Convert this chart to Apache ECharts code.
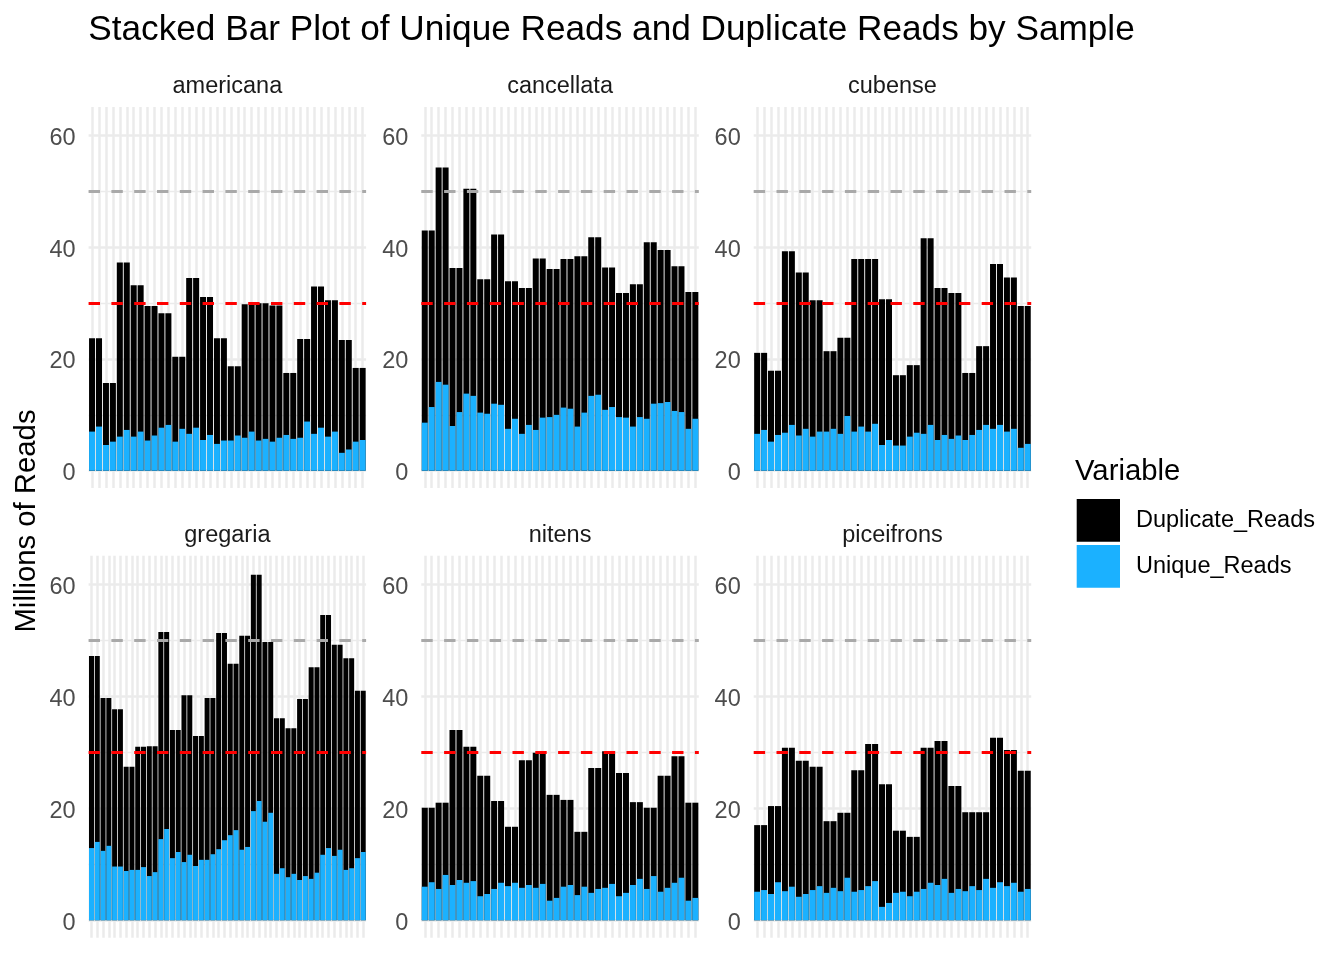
<!DOCTYPE html>
<html>
<head>
<meta charset="utf-8">
<title>Stacked Bar Plot of Unique Reads and Duplicate Reads by Sample</title>
<script src="https://cdn.jsdelivr.net/npm/echarts@6/dist/echarts.min.js"></script>
<style>
  html, body {margin:0; padding:0; background:#fff;}
  #main {width:1344px; height:960px;}
</style>
</head>
<body>
<div id="main"></div>
<script>
// millions of reads per sample (total bar height and the blue part)
var americanaTotal = [23.7,23.7, 15.7,15.7, 37.3,37.3, 33.2,33.2, 29.5,29.5, 28.2,28.2, 20.4,20.4, 34.5,34.5, 31.1,31.1, 23.7,23.7,
                      18.7,18.7, 29.8,29.8, 30.0,30.0, 29.6,29.6, 17.5,17.5, 23.6,23.6, 33.0,33.0, 30.5,30.5, 23.4,23.4, 18.4,18.4];
var americanaUnique = [7.0, 7.9, 4.6, 5.2, 6.1, 7.3, 6.1, 7.0, 5.4, 6.3, 7.7, 8.2, 5.2, 7.5, 6.6, 7.7, 5.5, 6.4, 4.8, 5.4,
                       5.4, 6.3, 5.9, 7.0, 5.4, 5.7, 5.2, 5.9, 6.4, 5.7, 5.9, 8.8, 6.6, 7.7, 6.1, 7.0, 3.2, 3.8, 5.2, 5.5];

var cancellataTotal = [43.0,43.0, 54.3,54.3, 36.3,36.3, 50.5,50.5, 34.3,34.3, 42.3,42.3, 33.9,33.9, 32.7,32.7, 38.0,38.0, 36.1,36.1,
                       37.9,37.9, 38.4,38.4, 41.8,41.8, 36.4,36.4, 31.8,31.8, 33.4,33.4, 40.9,40.9, 39.5,39.5, 36.6,36.6, 32.0,32.0];
var cancellataUnique = [8.6, 11.4, 15.9, 15.4, 8.0, 10.5, 13.8, 13.4, 10.4, 10.2, 12.0, 11.8, 7.5, 9.3, 6.6, 8.2, 7.3, 9.5, 9.6, 10.0,
                        11.3, 11.1, 7.9, 10.4, 13.4, 13.6, 10.9, 11.4, 9.6, 9.5, 7.9, 9.6, 9.3, 12.0, 12.1, 12.3, 10.7, 10.5, 7.5, 9.3];

var cubenseTotal = [21.1,21.1, 17.9,17.9, 39.3,39.3, 35.5,35.5, 30.5,30.5, 21.4,21.4, 23.8,23.8, 37.9,37.9, 37.9,37.9, 30.7,30.7,
                    17.1,17.1, 18.9,18.9, 41.6,41.6, 32.7,32.7, 31.8,31.8, 17.5,17.5, 22.3,22.3, 37.0,37.0, 34.6,34.6, 29.5,29.5];
var cubenseUnique = [6.6, 7.3, 5.2, 6.4, 6.8, 8.2, 6.3, 7.5, 6.1, 7.0, 7.0, 7.5, 6.6, 9.8, 7.0, 7.9, 7.0, 8.4, 4.6, 5.5,
                     4.5, 4.5, 6.1, 6.8, 6.6, 8.2, 5.5, 6.4, 5.7, 6.3, 5.5, 6.4, 7.3, 8.2, 7.5, 8.2, 7.0, 7.5, 4.1, 4.8];

var gregariaTotal = [47.2,47.2, 39.7,39.7, 37.7,37.7, 27.4,27.4, 31.0,31.0, 31.1,31.1, 51.5,51.5, 34.0,34.0, 40.2,40.2, 32.9,32.9,
                     39.7,39.7, 51.3,51.3, 45.8,45.8, 50.8,50.8, 61.7,61.7, 49.7,49.7, 36.1,36.1, 34.3,34.3, 39.5,39.5, 45.2,45.2,
                     54.5,54.5, 49.2,49.2, 46.8,46.8, 41.0,41.0];
var gregariaUnique = [12.9, 14.0, 12.4, 13.3, 9.6, 9.6, 8.8, 9.0, 9.0, 9.5, 7.9, 8.6, 14.5, 16.3, 11.1, 12.2, 10.4, 11.7, 9.7, 10.8,
                      10.8, 11.8, 12.7, 14.3, 15.2, 16.1, 12.6, 13.1, 19.5, 21.3, 17.6, 19.2, 8.3, 9.3, 7.7, 8.3, 7.2, 7.9, 7.4, 8.5,
                      11.7, 12.9, 11.5, 12.6, 9.0, 9.3, 11.1, 12.2];

var nitensTotal = [20.1,20.1, 21.0,21.0, 34.0,34.0, 31.0,31.0, 25.8,25.8, 21.3,21.3, 16.7,16.7, 28.6,28.6, 29.9,29.9, 22.4,22.4,
                   21.5,21.5, 15.8,15.8, 27.2,27.2, 30.2,30.2, 26.3,26.3, 21.1,21.1, 20.1,20.1, 25.8,25.8, 29.3,29.3, 21.0,21.0];
var nitensUnique = [6.0, 6.8, 5.6, 8.1, 6.3, 7.2, 6.7, 7.0, 4.3, 4.7, 5.6, 6.7, 6.1, 6.7, 5.8, 6.3, 5.8, 6.5, 3.5, 4.0,
                    6.0, 6.3, 4.5, 6.0, 4.9, 5.6, 5.8, 6.5, 4.3, 4.9, 6.3, 7.4, 5.6, 7.9, 5.1, 5.8, 6.7, 7.6, 3.5, 4.0];

var piceifronsTotal = [17.0,17.0, 20.4,20.4, 30.8,30.8, 28.5,28.5, 27.4,27.4, 17.7,17.7, 19.2,19.2, 26.8,26.8, 31.5,31.5, 24.3,24.3,
                       16.0,16.0, 14.9,14.9, 30.8,30.8, 32.0,32.0, 24.0,24.0, 19.3,19.3, 19.3,19.3, 32.6,32.6, 30.4,30.4, 26.7,26.7];
var piceifronsUnique = [5.1, 5.4, 4.7, 6.8, 5.2, 6.0, 4.2, 4.7, 5.4, 6.1, 4.9, 5.8, 5.2, 7.6, 5.1, 5.4, 6.1, 7.0, 2.4, 3.1,
                        4.9, 5.1, 4.3, 5.1, 5.6, 6.7, 6.3, 7.4, 4.9, 5.6, 5.2, 6.1, 5.4, 7.4, 5.8, 6.8, 6.1, 6.7, 5.1, 5.6];

var species = ['americana', 'cancellata', 'cubense', 'gregaria', 'nitens', 'piceifrons'];
var totals  = [americanaTotal, cancellataTotal, cubenseTotal, gregariaTotal, nitensTotal, piceifronsTotal];
var uniques = [americanaUnique, cancellataUnique, cubenseUnique, gregariaUnique, nitensUnique, piceifronsUnique];
var yTicks = [0, 20, 40, 60];
var refLines = [{value: 30, color: '#ff0000'}, {value: 50, color: '#a9a9a9'}];

var FONT = '"Liberation Sans", Arial, Helvetica, sans-serif';
var chart = echarts.init(document.getElementById('main'));

// panel geometry (pixels)
var colLeft = [88.6, 421.3, 753.7], panelW = 277.5;
var rowY60 = [135.6, 584.3], rowY0 = [470.7, 920.3];
var yMin = -3.1, yMax = 65.1;

var grids = [], xAxes = [], yAxes = [], series = [], graphics = [];

// data grids 0..5
species.forEach(function (sp, i) {
    var r = Math.floor(i / 3), c = i % 3;
    var unit = (rowY0[r] - rowY60[r]) / 60;
    var top = rowY60[r] - (yMax - 60) * unit;
    var h = (yMax - yMin) * unit;
    var cats = totals[i].map(function (v, k) { return sp + '_' + (k + 1); });
    grids.push({left: colLeft[c], top: top, width: panelW, height: h, containLabel: false, outerBoundsMode: 'none'});
    xAxes.push({
        gridIndex: i, type: 'category', data: cats,
        axisLine: {show: false, onZero: false},
        axisLabel: {show: false},
        // vertical grid lines sit on the category centres, as in ggplot
        axisTick: {show: true, alignWithLabel: true, inside: true, interval: 0, length: h,
                   lineStyle: {color: '#ebebeb', width: 2.5}},
        splitLine: {show: false}
    });
    yAxes.push({gridIndex: i, type: 'value', min: yMin, max: yMax, show: false});

    series.push({
        name: 'Duplicate_Reads', type: 'bar', xAxisIndex: i, yAxisIndex: i,
        data: totals[i], barGap: '-100%', barCategoryGap: '13%',
        itemStyle: {color: '#000000'},
        emphasis: {disabled: true},
        markLine: {
            silent: true, symbol: ['none', 'none'], label: {show: false}, animation: false,
            emphasis: {disabled: true},
            data: refLines.map(function (l) {
                return {yAxis: l.value, lineStyle: {color: l.color, type: [11.4, 11.4], width: 2.8}};
            })
        }
    });
    series.push({
        name: 'Unique_Reads', type: 'bar', xAxisIndex: i, yAxisIndex: i,
        data: uniques[i], barGap: '-100%', barCategoryGap: '13%',
        itemStyle: {color: '#1bb1ff'},
        emphasis: {disabled: true}
    });

    graphics.push({
        type: 'text', x: colLeft[c] + panelW / 2, y: rowY60[r] - 48.7,
        style: {text: sp, fontSize: 23.5, fontFamily: FONT, fill: '#1a1a1a',
                align: 'center', verticalAlign: 'middle', textAlign: 'center', textVerticalAlign: 'middle'}
    });
});

// background grids 6..11 carrying the y gridlines and tick labels
species.forEach(function (sp, i) {
    var r = Math.floor(i / 3), c = i % 3;
    grids.push({left: colLeft[c], top: rowY60[r], width: panelW, height: rowY0[r] - rowY60[r],
                containLabel: false, outerBoundsMode: 'none'});
    xAxes.push({gridIndex: 6 + i, type: 'category', data: totals[i].map(function (v, k) { return k; }), show: false});
    yAxes.push({
        gridIndex: 6 + i, type: 'value', min: yTicks[0], max: yTicks[yTicks.length - 1], interval: 20,
        axisLine: {show: false}, axisTick: {show: false},
        axisLabel: {color: '#4d4d4d', fontSize: 23.5, fontFamily: FONT, margin: 13,
                    verticalAlign: 'top', lineHeight: 6},
        splitLine: {show: true, lineStyle: {color: '#ebebeb', width: 2.5}},
        minorTick: {show: false, splitNumber: 2},
        minorSplitLine: {show: true, lineStyle: {color: '#ebebeb', width: 1.3}}
    });
});

graphics.push({
    type: 'text', x: 88.3, y: 30,
    style: {text: 'Stacked Bar Plot of Unique Reads and Duplicate Reads by Sample', fontSize: 35.2,
            fontFamily: FONT, fill: '#000', align: 'left', verticalAlign: 'middle',
            textAlign: 'left', textVerticalAlign: 'middle'}
});
graphics.push({
    type: 'text', x: 27, y: 521, rotation: Math.PI / 2,
    style: {text: 'Millions of Reads', fontSize: 29.3, fontFamily: FONT, fill: '#000',
            align: 'center', verticalAlign: 'middle', textAlign: 'center', textVerticalAlign: 'middle'}
});
graphics.push({
    type: 'text', x: 1075, y: 472,
    style: {text: 'Variable', fontSize: 29.3, fontFamily: FONT, fill: '#000',
            align: 'left', verticalAlign: 'middle', textAlign: 'left', textVerticalAlign: 'middle'}
});

chart.setOption({
    animation: false,
    backgroundColor: '#ffffff',
    grid: grids,
    xAxis: xAxes,
    yAxis: yAxes,
    legend: {
        orient: 'vertical', left: 1076.7, top: 499, padding: 0,
        itemWidth: 43.3, itemHeight: 42.7, itemGap: 3.3, icon: 'rect',
        selectedMode: false,
        data: ['Duplicate_Reads', 'Unique_Reads'],
        textStyle: {fontSize: 23.5, fontFamily: FONT, color: '#000', padding: [5, 0, 0, 11]}
    },
    graphic: graphics,
    series: series
});
</script>
</body>
</html>
